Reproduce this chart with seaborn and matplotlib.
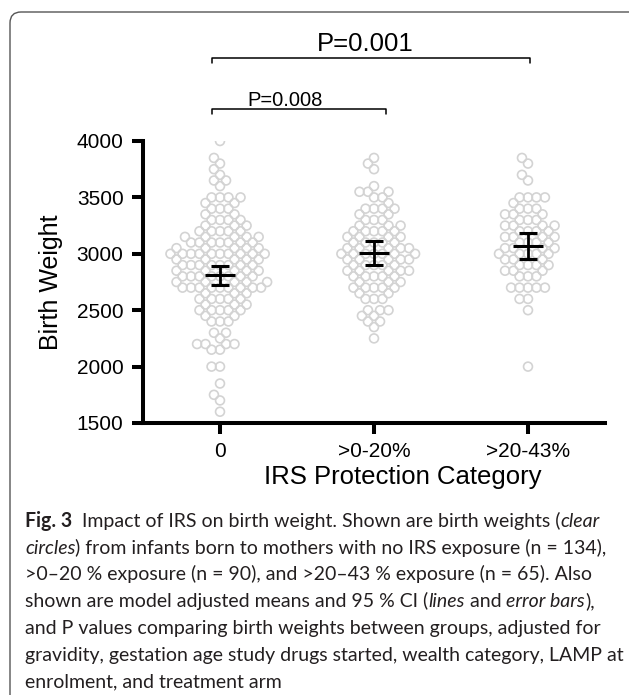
import numpy as np
import pandas as pd
import matplotlib
matplotlib.use('Agg')
import matplotlib.pyplot as plt
import seaborn as sns
from matplotlib.patches import FancyBboxPatch
from matplotlib.transforms import IdentityTransform
import warnings
warnings.filterwarnings('ignore')

# ------------------------------------------------------------
# DATA
# ------------------------------------------------------------
categories = ['0', '>0-20%', '>20-43%']

# birth weight values (g) and number of infants on each value
bw_none = [4000, 3850, 3800, 3750, 3700, 3650, 3600, 3500, 3450, 3400, 3350, 3300, 3250, 3200,
           3150, 3100, 3050, 3000, 2950, 2900, 2850, 2800, 2750, 2700, 2650, 2600,
           2550, 2500, 2450, 2400, 2300, 2250, 2200, 2150, 2000, 1850, 1750, 1700, 1600]
n_none = [1, 1, 1, 1, 1, 2, 1, 4, 2, 3, 2, 4, 3, 5,
          5, 7, 5, 10, 5, 8, 5, 8, 5, 9, 3, 5,
          3, 5, 2, 3, 2, 1, 4, 2, 2, 1, 1, 1, 1]

bw_low = [3850, 3800, 3750, 3600, 3550, 3500, 3450, 3400, 3350, 3300, 3250, 3200, 3150, 3100,
          3050, 3000, 2950, 2900, 2850, 2800, 2750, 2700, 2650, 2600, 2500, 2450, 2400, 2350, 2250]
n_low = [1, 1, 1, 1, 3, 2, 1, 4, 2, 3, 3, 5, 4, 5,
         5, 7, 5, 5, 5, 5, 3, 5, 2, 3, 3, 2, 2, 1, 1]

bw_high = [3850, 3800, 3700, 3650, 3500, 3450, 3400, 3350, 3300, 3250, 3200, 3150, 3100, 3050,
           3000, 2950, 2900, 2850, 2800, 2700, 2600, 2500, 2000]
n_high = [1, 1, 1, 1, 4, 1, 3, 3, 3, 4, 4, 4, 4, 4,
          5, 3, 4, 3, 3, 5, 2, 1, 1]

# model adjusted means and 95% CI
adj_mean = [2810, 3010, 3070]
ci_low = [2725, 2905, 2955]
ci_high = [2895, 3115, 3185]

p_labels = ['P=0.008', 'P=0.001']

# ------------------------------------------------------------
# BUILD TABLE
# ------------------------------------------------------------
frames = []
for cat, vals, counts in zip(categories, [bw_none, bw_low, bw_high], [n_none, n_low, n_high]):
    frames.append(pd.DataFrame({'group': cat, 'bw': np.repeat(vals, counts)}))
df = pd.concat(frames, ignore_index=True)

# ------------------------------------------------------------
# PLOT
# ------------------------------------------------------------
sns.set_style('ticks', {'axes.edgecolor': 'black', 'xtick.color': 'black', 'ytick.color': 'black',
                        'text.color': 'black', 'axes.labelcolor': 'black'})
plt.rcParams['font.family'] = ['Liberation Sans', 'DejaVu Sans']

W, H = 629, 695
fig = plt.figure(figsize=(W / 100, H / 100), dpi=100)
ax = fig.add_axes([143 / W, 1 - 423 / H, 462 / W, 282 / H])

# swarm laid out with small markers, drawn with bigger ones so that they overlap (Prism style)
sns.swarmplot(data=df, x='group', y='bw', order=categories, ax=ax,
              size=4.6, color='#d3d3d3', linewidth=1.2, zorder=2)
swarms = list(ax.collections)

mean = np.array(adj_mean)
ax.errorbar(np.arange(len(categories)), mean,
            yerr=[mean - np.array(ci_low), np.array(ci_high) - mean],
            fmt='_', color='black', markersize=21.6, mew=2.2,
            elinewidth=2.0, capsize=6.4, capthick=2.0, zorder=5)

ax.set_xlim(-0.5, 2.5)
ax.set_ylim(1500, 4000)
ax.set_yticks(range(1500, 4001, 500))
sns.despine(ax=ax)
for side in ['left', 'bottom']:
    ax.spines[side].set_linewidth(2.9)
    ax.spines[side].set_color('black')
    ax.spines[side].set_capstyle('projecting')
ax.tick_params(length=8, width=2.9, labelsize=15, pad=6, colors='black')

ax.set_ylabel('Birth Weight', fontsize=18, color='black')
ax.yaxis.set_label_coords(-0.173, 0.5)
ax.set_xlabel('IRS Protection Category', fontsize=18.5, color='black')
ax.xaxis.set_label_coords(0.563, -0.149)

# significance brackets
ax.plot([-0.05, -0.05, 1.08, 1.08], [4235, 4285, 4285, 4235], color='black', lw=1.1, clip_on=False)
ax.plot([-0.05, -0.05, 2.01, 2.01], [4690, 4738, 4738, 4690], color='black', lw=1.1, clip_on=False)
ax.text(0.425, 4310, p_labels[0], ha='center', va='baseline', fontsize=14.5)
ax.text(0.94, 4798, p_labels[1], ha='center', va='baseline', fontsize=18.5)

# rounded frame round the figure
frame = FancyBboxPatch((10, -40), 680, H - 12 + 40, boxstyle='round,pad=0,rounding_size=11',
                       transform=IdentityTransform(), fill=False, ec='#555555', lw=1.0)
fig.add_artist(frame)

# first draw fixes the swarm positions; then freeze them and enlarge the hollow circles
fig.canvas.draw()
for coll in swarms:
    if 'draw' in coll.__dict__:
        del coll.draw
    coll.set_sizes([6.4 ** 2])
    coll.set_facecolor('none')
    coll.set_edgecolor('#d3d3d3')
    coll.set_linewidth(1.2)

# ------------------------------------------------------------
# CAPTION
# ------------------------------------------------------------
cap_lines = [
    [('Fig. 3', 'bold'), ('  Impact of IRS on birth weight. Shown are birth weights (', 'normal'), ('clear', 'italic')],
    [('circles', 'italic'), (') from infants born to mothers with no IRS exposure (n = 134),', 'normal')],
    [('>0–20 % exposure (n = 90), and >20–43 % exposure (n = 65). Also', 'normal')],
    [('shown are model adjusted means and 95 % CI (', 'normal'), ('lines', 'italic'),
     (' and ', 'normal'), ('error bars', 'italic'), ('),', 'normal')],
    [('and P values comparing birth weights between groups, adjusted for', 'normal')],
    [('gravidity, gestation age study drugs started, wealth category, LAMP at', 'normal')],
    [('enrolment, and treatment arm', 'normal')],
]

renderer = fig.canvas.get_renderer()
cap_font = ['Lato', 'DejaVu Sans']

# pick the caption size so that the longest line spans the same width
probe = fig.text(0, 0, cap_lines[5][0][0], fontsize=10, family=cap_font, transform=IdentityTransform())
cap_size = 10 * 600 / probe.get_window_extent(renderer).width
probe.remove()

for i, parts in enumerate(cap_lines):
    x = 25
    y = H - (527 + 26.7 * i)
    for s, kind in parts:
        t = fig.text(x, y, s, fontsize=cap_size, family=cap_font, color='#231f20', va='baseline',
                     fontweight='bold' if kind == 'bold' else 'normal',
                     fontstyle='italic' if kind == 'italic' else 'normal',
                     transform=IdentityTransform())
        x = t.get_window_extent(renderer).x1

fig.savefig('out.png', dpi=100)
